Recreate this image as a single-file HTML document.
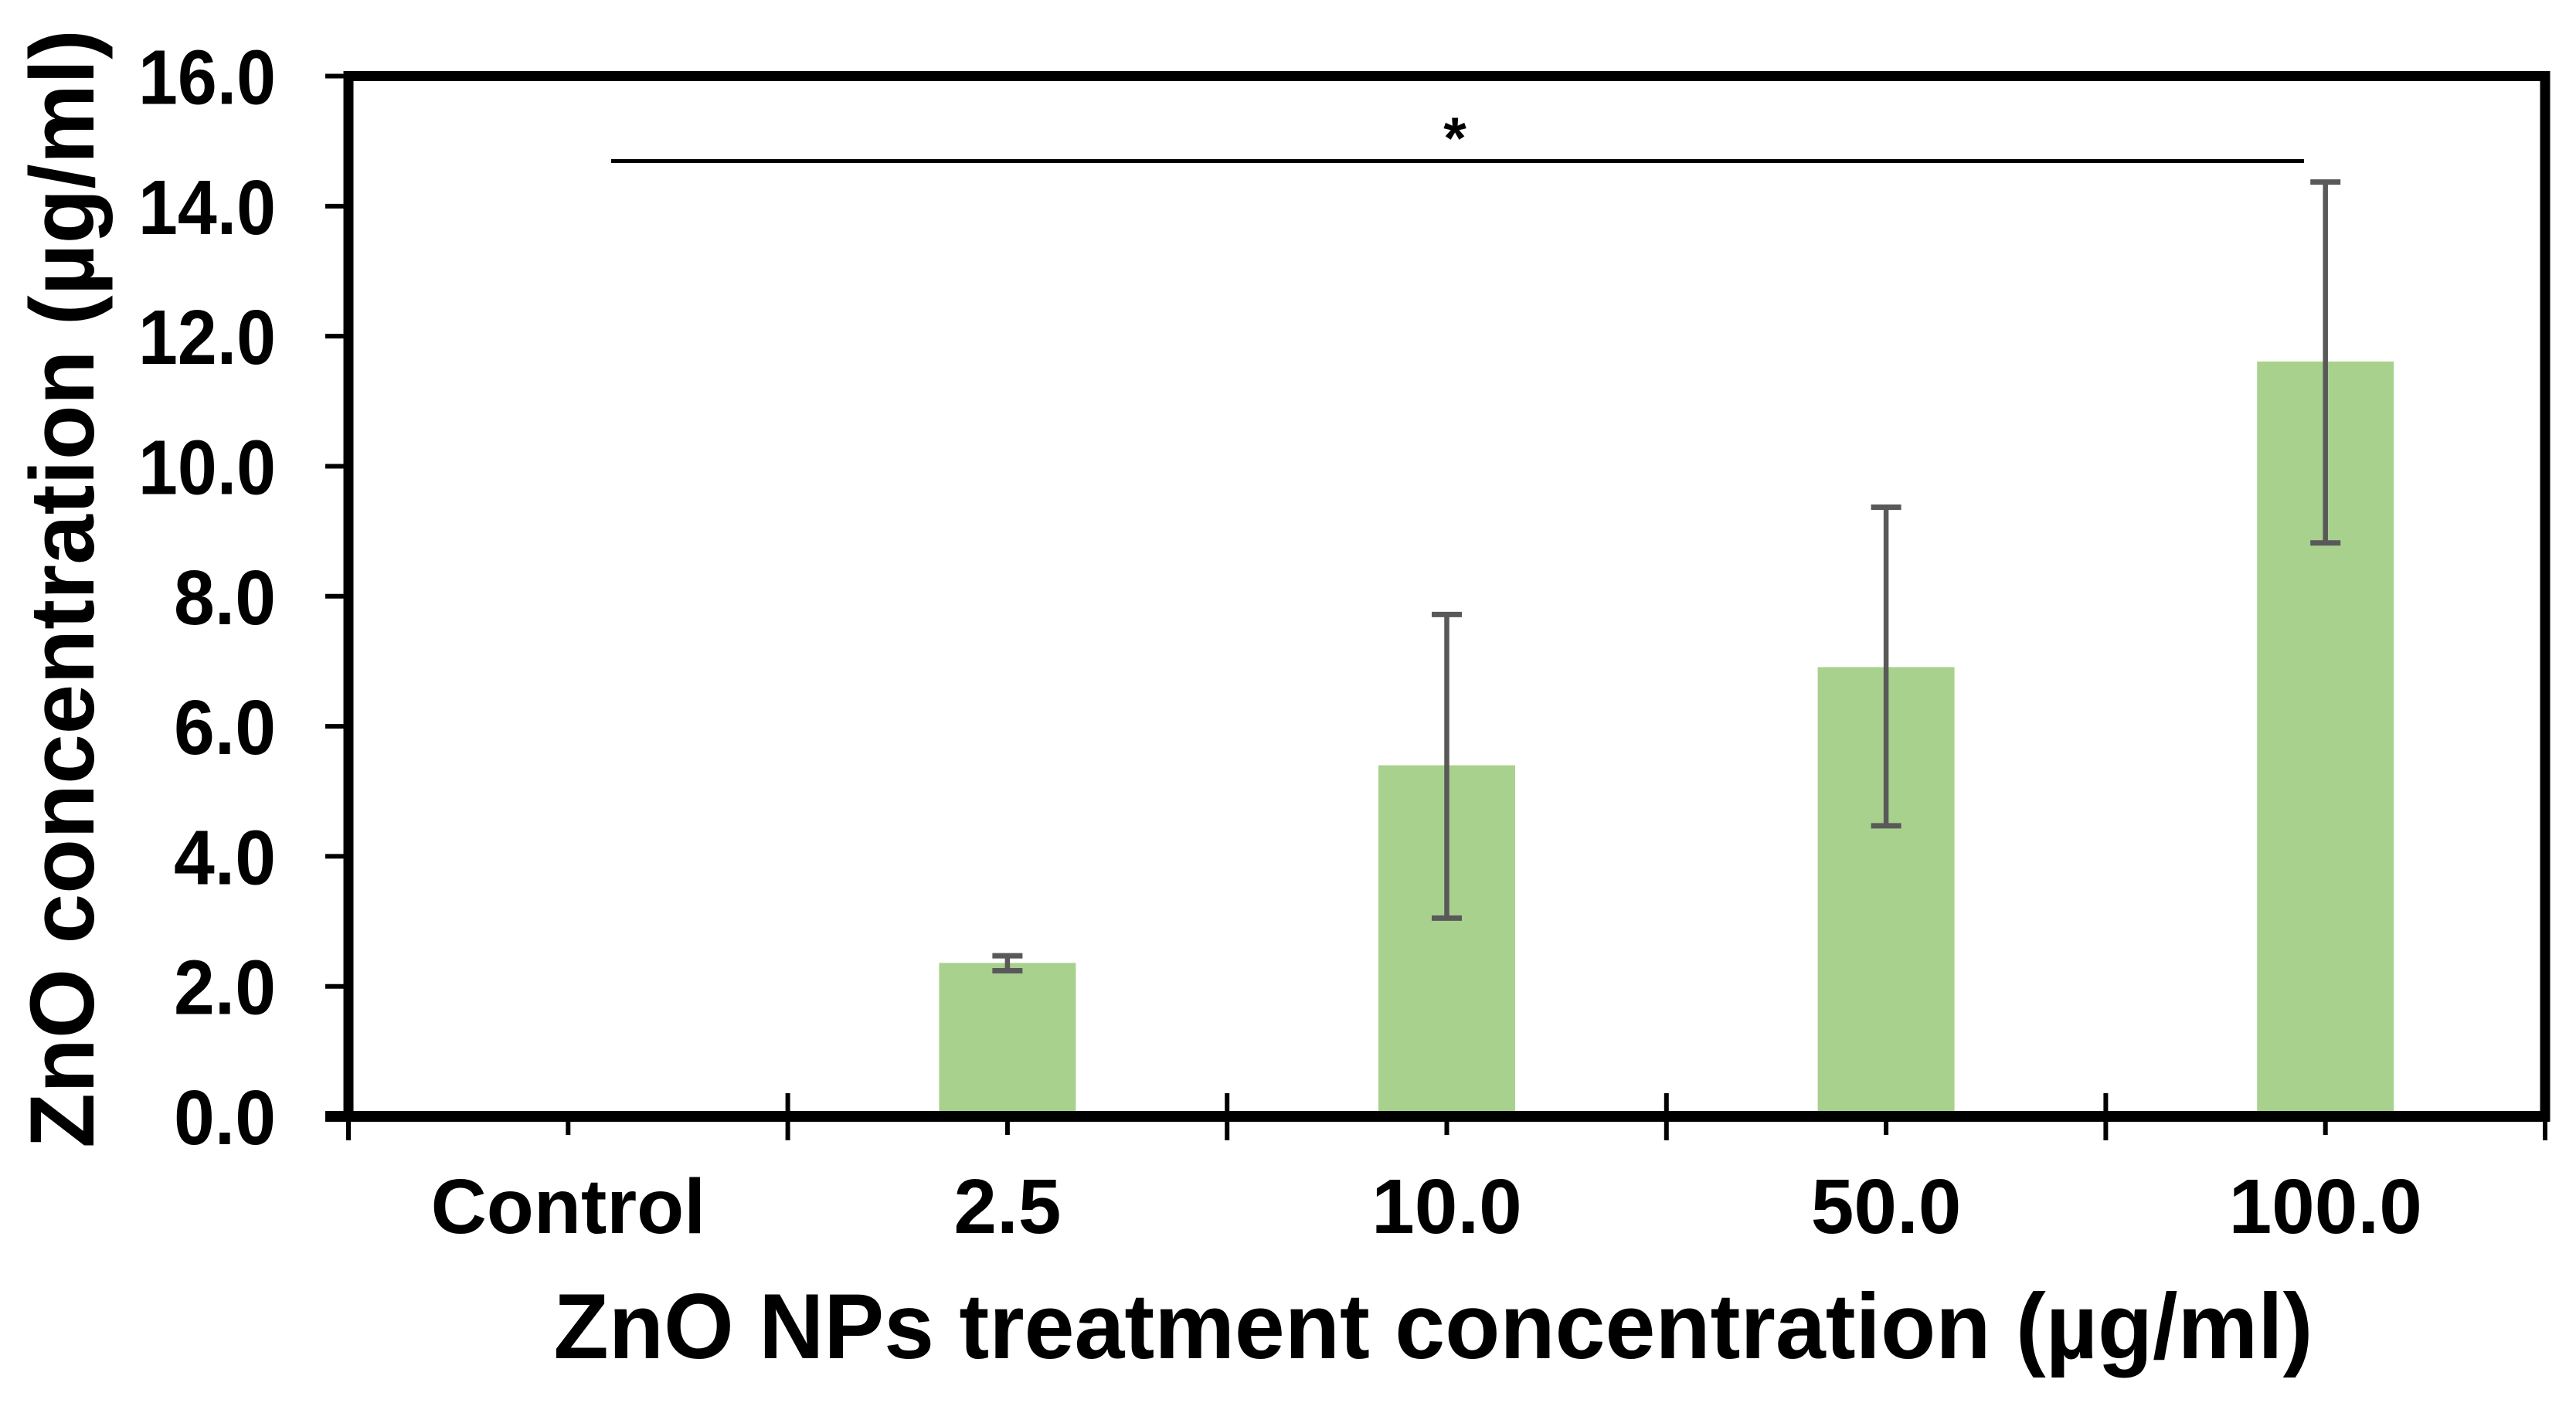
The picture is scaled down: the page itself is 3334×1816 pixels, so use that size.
<!DOCTYPE html>
<html><head><meta charset="utf-8"><style>
html,body{margin:0;padding:0;background:#fff;}
svg{display:block;font-family:"Liberation Sans",Arial,sans-serif;font-weight:bold;}
</style></head><body>
<svg id="chart" width="3334" height="1816" viewBox="0 0 3334 1816" xmlns="http://www.w3.org/2000/svg">
<g id="plot"></g>
</svg>
<script>
const categories = ["Control","2.5","10.0","50.0","100.0"];
const values = [0, 2.36, 5.40, 6.91, 11.61];
const errHigh = [0, 2.47, 7.72, 9.37, 14.37];
const errLow = [0, 2.24, 3.05, 4.47, 8.82];
const yTicks = [0,2,4,6,8,10,12,14,16];
const yTickLabels = ["0.0","2.0","4.0","6.0","8.0","10.0","12.0","14.0","16.0"];
const sigFrom = 0, sigTo = 4;

const NS="http://www.w3.org/2000/svg";
const L=451, R=3294, T=98.5, B=1445;
const catW=(R-L)/categories.length;
function y(v){return B-(v/16)*(B-T);}
function xc(i){return L+catW*(i+0.5);}
const g=document.getElementById('plot');
function mk(tag,attrs,parent){const e=document.createElementNS(NS,tag);for(const k in attrs)e.setAttribute(k,attrs[k]);(parent||g).appendChild(e);return e;}

// bars
categories.forEach((c,i)=>{
  if(values[i]>0){
    const r=mk('rect',{x:xc(i)-88.5,y:y(values[i]),width:177,height:B-y(values[i]),fill:'#a9d18e'});
    
    
    const eg=mk('g',{stroke:'#595959','stroke-width':6.5});
    
    
    mk('line',{x1:xc(i),x2:xc(i),y1:y(errHigh[i]),y2:y(errLow[i])},eg);
    mk('line',{x1:xc(i)-19.5,x2:xc(i)+19.5,y1:y(errHigh[i]),y2:y(errHigh[i]),'stroke-width':7},eg);
    mk('line',{x1:xc(i)-19.5,x2:xc(i)+19.5,y1:y(errLow[i]),y2:y(errLow[i]),'stroke-width':7},eg);
  }
});

// frame
const fr=mk('rect',{x:L,y:T,width:R-L,height:B-T,fill:'none',stroke:'#000','stroke-width':13});


const xa=mk('line',{x1:L-30,x2:R+6,y1:B,y2:B,stroke:'#000','stroke-width':14});



// y ticks
yTicks.forEach((v,i)=>{
  const t=mk('line',{x1:421,x2:L,y1:y(v),y2:y(v),stroke:'#000','stroke-width':6});
  
  
  const tx=mk('text',{x:357,y:y(v)+36,'text-anchor':'end','font-size':100,textLength:yTickLabels[i].length>3?178:132,lengthAdjust:'spacingAndGlyphs'});
  tx.textContent=yTickLabels[i];
  
  
});

// x ticks
for(let i=0;i<=categories.length;i++){
  const x=L+catW*i;
  const t=mk('line',{x1:x,x2:x,y1:(i===0||i===categories.length)?B:1415,y2:1476,stroke:'#000','stroke-width':6});
  
  
}
categories.forEach((c,i)=>{
  const t=mk('line',{x1:xc(i),x2:xc(i),y1:B,y2:1469,stroke:'#000','stroke-width':6});
  
  
  const tx=mk('text',{x:xc(i),y:1596,'text-anchor':'middle','font-size':100});
  tx.textContent=c;
  
  
});

// significance
const sl=mk('line',{x1:791,x2:2982,y1:208.5,y2:208.5,stroke:'#000','stroke-width':5});


const st=mk('text',{x:1883,y:205,'text-anchor':'middle','font-size':76});
st.textContent='*';



// titles
const xt=mk('text',{x:1855,y:1758,'text-anchor':'middle','font-size':120,textLength:2277,lengthAdjust:'spacingAndGlyphs'});
xt.textContent='ZnO NPs treatment concentration (µg/ml)';


const yt=mk('text',{x:0,y:0,'text-anchor':'middle','font-size':118,textLength:1448,lengthAdjust:'spacingAndGlyphs',transform:'translate(121,762) rotate(-90)'});
yt.textContent='ZnO concentration (µg/ml)';


</script>
</body></html>
